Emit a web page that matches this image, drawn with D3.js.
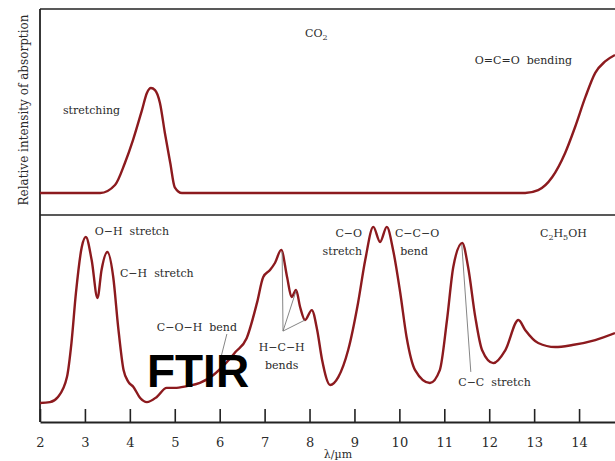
<!DOCTYPE html>
<html>
<head>
<meta charset="utf-8">
<script src="https://cdn.jsdelivr.net/npm/d3@7"></script>
<style>
  body { margin: 0; background: #fff; }
  svg { display: block; }
  text { font-family: "DejaVu Serif", "Liberation Serif", serif; fill: #2a2a2a; white-space: pre; }
</style>
</head>
<body>
<div id="chart"></div>
<script>
// CO2 spectrum (top panel), wavelength in µm vs relative absorption
const co2Lambda = [2.0, 3.0, 3.34, 3.67, 3.89, 4.07, 4.27, 4.38, 4.47, 4.56, 4.67, 4.78, 4.9, 5.0, 5.16,
                   8.0, 12.8, 13.09, 13.4, 13.69, 13.91, 14.14, 14.36, 14.58, 14.8];
const co2Value  = [0, 0, 0, 5.6, 21, 37, 58, 70, 73.4, 72, 63, 42, 21, 4, 0,
                   0, 0, 2, 11, 28, 46, 67, 84, 92, 96.5];

// C2H5OH spectrum (bottom panel)
const ethLambda = [2.0, 2.22, 2.4, 2.6, 2.7, 2.8, 2.93, 3.02, 3.15, 3.28, 3.37, 3.5, 3.63, 3.74, 3.86, 3.97,
                   4.08, 4.23, 4.38, 4.6, 4.82, 5.0, 5.27, 5.56, 5.86, 6.1, 6.35, 6.6, 6.83, 6.97, 7.12,
                   7.23, 7.37, 7.5, 7.6, 7.7, 7.79, 7.9, 8.05, 8.17, 8.28, 8.46, 8.64, 8.86, 9.08, 9.24,
                   9.42, 9.57, 9.72, 9.86, 10.02, 10.16, 10.35, 10.68, 10.9, 11.06, 11.2, 11.4, 11.53,
                   11.69, 11.84, 12.09, 12.36, 12.65, 12.8, 13.09, 13.47, 13.85, 14.36, 14.8];
const ethValue  = [3.8, 4.3, 7.1, 17.9, 36.4, 63.6, 88.6, 94.0, 81.5, 60.9, 76.1, 85.9, 72.3, 45.1, 21.7, 15.2,
                   12.5, 6.5, 4.3, 7.1, 12.0, 12.0, 13.0, 14.7, 19, 24.5, 31.5, 39, 58.2, 72.3, 76.1,
                   79.9, 87.0, 72.3, 61.4, 65.2, 56.0, 48.9, 54.3, 43.5, 27.2, 13.6, 17.9, 32.6, 58.2, 81.5,
                   99.5, 91.3, 99.5, 87.0, 63.6, 39.7, 21.7, 14.7, 21.7, 48.9, 77.7, 90.8, 77.7,
                   50.5, 32.6, 25.5, 32.6, 48.9, 43.5, 36.4, 34.2, 35.3, 38.0, 41.8];

const xTicks = [2, 3, 4, 5, 6, 7, 8, 9, 10, 11, 12, 13, 14];

// labels: [text, lambda, value, anchor]
const co2Labels = [
  ["stretching", 2.51, 55.2, "start"],
  ["O=C=O  bending", 11.68, 90.2, "start"]
];
const ethLabels = [
  ["O\u2212H  stretch", 3.22, 95.1, "start"],
  ["C\u2212H  stretch", 3.78, 72.3, "start"],
  ["C\u2212O\u2212H  bend", 4.6, 42.9, "start"],
  ["H\u2212C\u2212H", 7.38, 32.1, "middle"],
  ["bends", 7.38, 22.3, "middle"],
  ["C\u2212O", 9.17, 94.0, "end"],
  ["stretch", 9.17, 84.2, "end"],
  ["C\u2212C\u2212O", 9.9, 94.0, "start"],
  ["bend", 10.02, 84.2, "start"],
  ["C\u2212C  stretch", 11.31, 13.0, "start"]
];
// pointer lines: [lambda1, value1, lambda2, value2]
const ethPointers = [
  [6.16, 41.3, 6.03, 28.8],
  [7.41, 42.9, 7.39, 85.9],
  [7.41, 42.9, 7.70, 64.7],
  [7.41, 42.9, 7.90, 48.9],
  [11.39, 89.7, 11.59, 20.7]
];

const width = 615, height = 461;
const padL = 40, padR = 615, frameTop = 9, frameMid = 215, axisY = 422;

const svg = d3.select("#chart").append("svg")
  .attr("width", width).attr("height", height);

const x = d3.scaleLinear().domain([2, 14.8]).range([padL, padR]);
const yTop = d3.scaleLinear().domain([0, 100]).range([193, 50]);
const yBot = d3.scaleLinear().domain([0, 100]).range([410, 226]);

const curveColor = "#8c1a1e";

// frame
svg.append("line").attr("x1", padL).attr("x2", padR).attr("y1", frameTop).attr("y2", frameTop)
  .attr("stroke", "#222").attr("stroke-width", 1.6);
svg.append("line").attr("x1", padL).attr("x2", padR).attr("y1", frameMid).attr("y2", frameMid)
  .attr("stroke", "#222").attr("stroke-width", 1.6);
svg.append("line").attr("x1", padL).attr("x2", padL).attr("y1", frameTop).attr("y2", axisY)
  .attr("stroke", "#222").attr("stroke-width", 1.8);

// x axis, ticks pointing up
const xAxis = d3.axisBottom(x).tickValues(xTicks).tickSize(-13).tickSizeOuter(0).tickPadding(16);
const gx = svg.append("g").attr("transform", `translate(0,${axisY})`).call(xAxis);
gx.select(".domain").attr("stroke", "#222").attr("stroke-width", 2);
gx.selectAll(".tick line").attr("stroke", "#222").attr("stroke-width", 1.6);
gx.selectAll(".tick text")
  .style("font-family", "'DejaVu Serif', serif")
  .style("font-size", "13px").style("fill", "#2a2a2a");

svg.append("text").attr("x", 338).attr("y", 458).attr("text-anchor", "middle")
  .style("font-size", "11px").text("\u03bb/\u00b5m");

svg.append("text")
  .attr("transform", "translate(28,110) rotate(-90)")
  .attr("text-anchor", "middle")
  .style("font-size", "12px")
  .text("Relative intensity of absorption");

// spectra
const lineTop = d3.line().x((d, i) => x(co2Lambda[i])).y(d => yTop(d)).curve(d3.curveMonotoneX);
const lineBot = d3.line().x((d, i) => x(ethLambda[i])).y(d => yBot(d)).curve(d3.curveMonotoneX);

svg.append("path").datum(co2Value).attr("d", lineTop)
  .attr("fill", "none").attr("stroke", curveColor).attr("stroke-width", 2.4);
svg.append("path").datum(ethValue).attr("d", lineBot)
  .attr("fill", "none").attr("stroke", curveColor).attr("stroke-width", 2.4);

// pointer lines
svg.selectAll("line.ptr").data(ethPointers).enter().append("line")
  .attr("class", "ptr")
  .attr("x1", d => x(d[0])).attr("y1", d => yBot(d[1]))
  .attr("x2", d => x(d[2])).attr("y2", d => yBot(d[3]))
  .attr("stroke", "#777").attr("stroke-width", 0.9);

// labels
svg.selectAll("text.tl").data(co2Labels).enter().append("text")
  .attr("class", "tl")
  .attr("x", d => x(d[1])).attr("y", d => yTop(d[2]))
  .attr("text-anchor", d => d[3])
  .style("font-size", "11px")
  .text(d => d[0]);

svg.selectAll("text.bl").data(ethLabels).enter().append("text")
  .attr("class", "bl")
  .attr("x", d => x(d[1])).attr("y", d => yBot(d[2]))
  .attr("text-anchor", d => d[3])
  .style("font-size", "11px")
  .text(d => d[0]);

// formulas with subscripts
const co2 = svg.append("text").attr("x", x(7.9)).attr("y", yTop(109)).style("font-size", "11px");
co2.append("tspan").text("CO");
co2.append("tspan").attr("dy", 3).style("font-size", "8px").text("2");

const eth = svg.append("text").attr("x", x(13.13)).attr("y", yBot(94)).style("font-size", "11px");
eth.append("tspan").text("C");
eth.append("tspan").attr("dy", 3).style("font-size", "8px").text("2");
eth.append("tspan").attr("dy", -3).text("H");
eth.append("tspan").attr("dy", 3).style("font-size", "8px").text("5");
eth.append("tspan").attr("dy", -3).text("OH");

// overlay title
svg.append("text").attr("x", x(4.38)).attr("y", yBot(12.5))
  .style("font-family", "'Liberation Sans', Arial, sans-serif")
  .style("font-weight", "bold").style("font-size", "46px")
  .style("fill", "#000")
  .text("FTIR");
</script>
</body>
</html>
